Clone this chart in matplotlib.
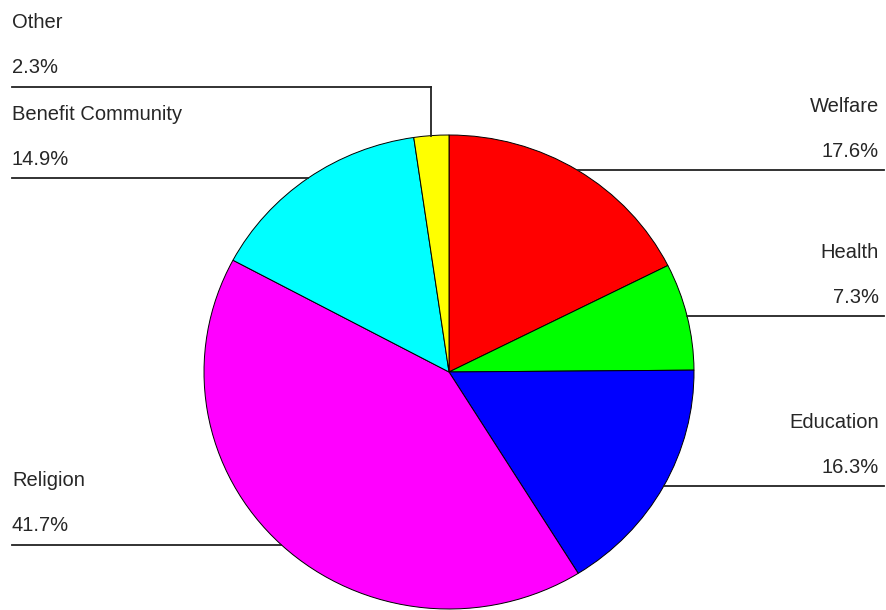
import numpy as np
import matplotlib.pyplot as plt

# -----------------------------
# Data
# -----------------------------
labels = ["Welfare", "Health", "Education", "Religion", "Benefit Community", "Other"]
shares = [17.6, 7.3, 16.3, 41.7, 14.9, 2.3]
colors = ["#ff0000", "#00ff00", "#0000ff", "#ff00ff", "#00ffff", "#ffff00"]

# labels that get an elbow line (vertical, then horizontal) at a fixed height
elbow_height = {"Other": 1.203}

# -----------------------------
# Layout (pixels of the 887x610 image)
# -----------------------------
W, H = 887, 610
cx, cy = 449, 372          # pie centre
rx, ry = 245, 237          # pie radii (slightly squashed)
left_px, right_px = 12, 884
text_right_px = 879

plt.rcParams['font.family'] = ['Liberation Sans', 'DejaVu Sans']

fig = plt.figure(figsize=(W / 100, H / 100), dpi=100)
ax = fig.add_axes([(cx - rx) / W, (H - cy - ry) / H, 2 * rx / W, 2 * ry / H])

wedges, _ = ax.pie(shares, colors=colors, startangle=90, counterclock=False,
                   radius=1.0, wedgeprops=dict(edgecolor="black", linewidth=0.7))
ax.set_aspect("auto")
ax.set_xlim(-1, 1)
ax.set_ylim(-1, 1)
ax.axis("off")

x_left = (left_px - cx) / rx
x_right = (right_px - cx) / rx
x_text_right = (text_right_px - cx) / rx
name_off = 64 / ry
pct_off = 19 / ry

for w, lab, val in zip(wedges, labels, shares):
    mid = np.deg2rad((w.theta1 + w.theta2) / 2)
    px, py = np.cos(mid), np.sin(mid)
    if lab in elbow_height:
        ly = elbow_height[lab]
        xs, ys = [px, px], [py, ly]
        ax.plot(xs, ys, color="#222222", lw=1.3, clip_on=False)
    else:
        ly = py
    if px >= 0:
        ax.plot([px, x_right], [ly, ly], color="#222222", lw=1.3, clip_on=False)
        tx, ha = x_text_right, "right"
    else:
        ax.plot([x_left, px], [ly, ly], color="#222222", lw=1.3, clip_on=False)
        tx, ha = x_left, "left"
    ax.text(tx, ly + name_off, lab, ha=ha, va="center", fontsize=14.5,
            color="#262626", clip_on=False)
    ax.text(tx, ly + pct_off, f"{val}%", ha=ha, va="center", fontsize=14.5,
            color="#262626", clip_on=False)

fig.savefig("out.png", dpi=100, facecolor="white")
